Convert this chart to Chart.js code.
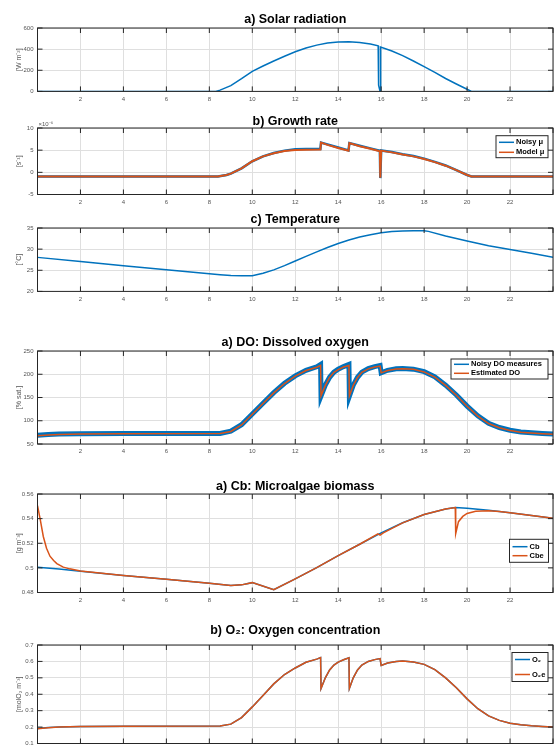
<!DOCTYPE html>
<html>
<head>
<meta charset="utf-8">
<script src="https://cdn.jsdelivr.net/npm/chart.js@4.4.1/dist/chart.umd.min.js"></script>
<style>
  html, body { margin: 0; padding: 0; background: #fff; overflow: hidden; }
  #page { position: relative; width: 557px; height: 747px; overflow: hidden; }
  #page canvas { position: absolute; left: 0; }
</style>
</head>
<body>
<div id="page"></div>
<script>
// ---- data, x = hour of the day ----
const solarT = [0, 8.3, 8.5, 9, 9.5, 10, 10.5, 11, 11.5, 12, 12.5, 13, 13.5, 14, 14.5, 15, 15.5, 15.86, 15.88, 15.92, 15.95, 15.97, 15.98, 16.5, 17, 17.5, 18, 18.5, 19, 19.5, 20, 20.2, 24];
const solarW = [0, 0, 12, 55, 120, 190, 240, 288, 333, 375, 410, 438, 457, 468, 470, 463, 448, 432, 60, 25, 0, 0, 420, 382, 338, 288, 234, 180, 122, 70, 20, 0, 0];

// growth rate, in 1e-6 s^-1
const muT = [0, 8.4, 8.8, 9, 9.5, 10, 10.5, 11, 11.5, 12, 12.5, 13.17, 13.2, 13.5, 14, 14.48, 14.52, 15, 15.5, 15.94, 15.96, 15.98, 16, 16.5, 17, 17.5, 18, 18.5, 19, 19.5, 20, 20.2, 24];
const muNoisy = [-0.95, -0.95, -0.6, -0.3, 0.9, 2.5, 3.6, 4.35, 4.9, 5.2, 5.25, 5.25, 6.7, 6.3, 5.6, 4.95, 6.6, 6.0, 5.4, 4.85, -1.3, -1.3, 4.95, 4.6, 4.1, 3.7, 3.1, 2.35, 1.55, 0.5, -0.6, -0.95, -0.95];
const muModel = [-0.95, -0.95, -0.6, -0.3, 0.9, 2.5, 3.6, 4.3, 4.8, 5.05, 5.1, 5.15, 6.7, 6.2, 5.5, 4.85, 6.6, 5.9, 5.3, 4.75, -1.2, -1.2, 4.9, 4.5, 4.0, 3.6, 3.0, 2.3, 1.5, 0.5, -0.6, -0.95, -0.95];

const tempT = [0, 2, 4, 6, 8, 8.5, 9, 9.5, 10, 10.5, 11, 11.5, 12, 12.5, 13, 13.5, 14, 14.5, 15, 15.5, 16, 16.5, 17, 17.5, 18, 18.2, 19, 20, 21, 22, 23, 24];
const tempC = [28.05, 27.05, 26.05, 25.15, 24.2, 23.95, 23.75, 23.7, 23.7, 24.3, 25.1, 26.1, 27.2, 28.3, 29.35, 30.4, 31.35, 32.15, 32.85, 33.4, 33.85, 34.15, 34.3, 34.35, 34.35, 34.2, 33.1, 31.9, 30.8, 29.9, 29.0, 28.05];

const doT = [0, 0.5, 1, 2, 4, 8.5, 9, 9.5, 10, 10.5, 11, 11.5, 12, 12.5, 13, 13.18, 13.2, 13.4, 13.6, 13.8, 14, 14.25, 14.5, 14.52, 14.7, 14.9, 15.1, 15.4, 15.7, 15.95, 16, 16.3, 16.7, 17, 17.5, 18, 18.5, 19, 19.5, 20, 20.5, 21, 21.5, 22, 22.5, 23, 23.5, 24];
const doNoisy = [69, 70.5, 71.5, 72.3, 72.5, 72.7, 77.5, 91.5, 114.5, 137.5, 160.5, 180.5, 196.5, 208.5, 216, 221, 153, 176.5, 193.5, 204.5, 211, 216.5, 221, 153, 176.5, 193.5, 204.5, 212, 216.5, 219, 203, 208.5, 212, 212.5, 211, 205.5, 194.5, 176.5, 155.5, 131.5, 110.5, 94.5, 85.5, 79.5, 76, 74, 72.5, 71.5];
const doEst = [67.5, 69.5, 70.5, 71.7, 72.3, 72.7, 77, 91, 114, 137, 160, 180, 196, 208, 215, 219, 153.5, 176, 193, 204, 210, 215.5, 219, 153.5, 176, 193, 204, 211.5, 215.5, 217.5, 203, 208, 211.5, 212, 210.5, 205, 194, 176, 155, 131, 110, 94, 85, 79, 75.5, 73.5, 72, 71];

const cbT = [0, 1, 2, 4, 6, 8, 9, 9.5, 10, 11, 12, 13, 14, 15, 16, 17, 18, 19, 19.45, 20, 21, 22, 23, 24];
const cb = [0.5005, 0.499, 0.4973, 0.4938, 0.4907, 0.4876, 0.4857, 0.4862, 0.488, 0.4822, 0.4911, 0.5002, 0.5099, 0.5192, 0.5284, 0.5366, 0.5434, 0.5478, 0.549, 0.5484, 0.5468, 0.5447, 0.5425, 0.5403];
const cbeT = [0, 0.12, 0.27, 0.42, 0.58, 0.75, 0.9, 1.2, 1.5, 2, 4, 6, 8, 9, 9.5, 10, 11, 12, 13, 14, 15, 15.85, 15.95, 16.1, 17, 18, 19, 19.45, 19.47, 19.6, 19.8, 20, 20.4, 21, 21.5, 22, 23, 24];
const cbe = [0.5505, 0.54, 0.5255, 0.516, 0.5095, 0.506, 0.5035, 0.5006, 0.4992, 0.4975, 0.4938, 0.4907, 0.4876, 0.4857, 0.4862, 0.488, 0.4822, 0.4911, 0.5002, 0.5099, 0.5192, 0.5276, 0.5266, 0.5285, 0.5366, 0.5434, 0.5478, 0.549, 0.5278, 0.5375, 0.5418, 0.5442, 0.5459, 0.5463, 0.5458, 0.5447, 0.5425, 0.5403];

const o2T = doT;
const o2 = [0.192, 0.197, 0.2, 0.203, 0.205, 0.206, 0.218, 0.258, 0.323, 0.393, 0.463, 0.52, 0.56, 0.595, 0.614, 0.623, 0.435, 0.5, 0.548, 0.578, 0.596, 0.61, 0.622, 0.435, 0.5, 0.548, 0.578, 0.6, 0.611, 0.617, 0.575, 0.59, 0.6, 0.602, 0.597, 0.582, 0.55, 0.5, 0.44, 0.372, 0.312, 0.268, 0.241, 0.224, 0.214, 0.208, 0.204, 0.201];
const o2e = [0.19, 0.196, 0.2, 0.203, 0.205, 0.206, 0.218, 0.258, 0.323, 0.393, 0.463, 0.52, 0.56, 0.595, 0.614, 0.623, 0.435, 0.5, 0.548, 0.578, 0.596, 0.61, 0.622, 0.435, 0.5, 0.548, 0.578, 0.6, 0.611, 0.617, 0.575, 0.59, 0.6, 0.602, 0.597, 0.582, 0.55, 0.5, 0.44, 0.372, 0.312, 0.268, 0.241, 0.224, 0.214, 0.208, 0.204, 0.2];

// ---- look ----
const BLUE = '#0072BD';
const ORANGE = '#D95319';
const GRID = '#dfdfdf';
const AXIS = '#262626';
const TICK = '#555';
const FONT = '"Liberation Sans", Arial, Helvetica, sans-serif';

const xy = (t, v) => t.map((x, i) => ({ x: x, y: v[i] }));

// matlab-ish box, inward ticks, title, legend
const matlabAxes = {
  id: 'matlabAxes',
  afterDraw(chart, args, o) {
    const { ctx, chartArea: a } = chart;
    const x = chart.scales.x, y = chart.scales.y;
    ctx.save();
    ctx.strokeStyle = AXIS;
    ctx.lineWidth = 1;
    ctx.strokeRect(a.left, a.top, a.right - a.left, a.bottom - a.top);
    ctx.beginPath();
    x.ticks.forEach(t => {
      const px = x.getPixelForValue(t.value);
      ctx.moveTo(px, a.bottom); ctx.lineTo(px, a.bottom - 5);
      ctx.moveTo(px, a.top); ctx.lineTo(px, a.top + 5);
    });
    y.ticks.forEach(t => {
      const py = y.getPixelForValue(t.value);
      ctx.moveTo(a.left, py); ctx.lineTo(a.left + 5, py);
      ctx.moveTo(a.right, py); ctx.lineTo(a.right - 5, py);
    });
    ctx.stroke();

    ctx.fillStyle = '#000';
    ctx.font = 'bold 12.5px ' + FONT;
    ctx.textAlign = 'center';
    ctx.textBaseline = 'middle';
    ctx.fillText(o.title, (a.left + a.right) / 2, a.top - o.titleGap);

    if (o.exponent) {
      ctx.fillStyle = TICK;
      ctx.font = '6px ' + FONT;
      ctx.textAlign = 'left';
      ctx.fillText(o.exponent, a.left + 1, a.top - 3.5);
    }

    const lg = o.legend;
    if (lg) {
      const bx = a.right - lg.right - lg.w;
      const by = a.top + lg.top;
      ctx.fillStyle = '#fff';
      ctx.fillRect(bx, by, lg.w, lg.h);
      ctx.strokeStyle = AXIS;
      ctx.lineWidth = 1;
      ctx.strokeRect(bx, by, lg.w, lg.h);
      ctx.font = 'bold 7.5px ' + FONT;
      ctx.textAlign = 'left';
      ctx.textBaseline = 'middle';
      lg.items.forEach((it, i) => {
        const ly = by + lg.rows[i];
        ctx.strokeStyle = it.color;
        ctx.lineWidth = 1.5;
        ctx.beginPath();
        ctx.moveTo(bx + 3, ly);
        ctx.lineTo(bx + 18, ly);
        ctx.stroke();
        ctx.fillStyle = '#000';
        ctx.fillText(it.label, bx + 20, ly);
      });
    }
    ctx.restore();
  }
};

function panel(p) {
  const padTop = 22, axisH = 14;
  const c = document.createElement('canvas');
  const h = padTop + (p.bottom - p.top) + axisH;
  c.width = 557;
  c.height = Math.ceil(h);
  c.style.top = (p.top - padTop) + 'px';
  document.getElementById('page').appendChild(c);

  new Chart(c.getContext('2d'), {
    type: 'line',
    data: {
      datasets: p.series.map(s => ({
        data: xy(s.t, s.v),
        borderColor: s.color,
        borderWidth: s.width,
        pointRadius: 0,
        tension: 0,
        fill: false,
        order: s.order || 0
      }))
    },
    options: {
      responsive: false,
      animation: false,
      events: [],
      layout: { padding: { top: padTop, right: 1.5, bottom: c.height - h, left: 0 } },
      scales: {
        x: {
          type: 'linear', min: 0, max: 24,
          afterFit: s => { s.height = axisH; },
          border: { display: false },
          grid: { color: GRID, lineWidth: 1, drawTicks: false },
          ticks: {
            stepSize: 2, autoSkip: false, maxRotation: 0, padding: 4,
            color: TICK, font: { size: 6, family: FONT },
            callback: v => (v > 0 && v < 24) ? v : ''
          }
        },
        y: {
          min: p.yMin, max: p.yMax,
          afterFit: s => { s.width = 37.5; },
          border: { display: false },
          grid: { color: GRID, lineWidth: 1, drawTicks: false },
          ticks: {
            stepSize: p.yStep, padding: 4, color: TICK, font: { size: 6, family: FONT },
            callback: v => String(+v.toFixed(4))
          },
          title: {
            display: true, text: p.yTitle, color: TICK,
            font: { size: 7, family: FONT }, padding: { top: 14.8, bottom: 0 }
          }
        }
      },
      plugins: {
        legend: { display: false },
        tooltip: { enabled: false },
        matlabAxes: { title: p.title, titleGap: p.titleGap, exponent: p.exponent, legend: p.legend }
      }
    },
    plugins: [matlabAxes]
  });
}

panel({
  top: 28.3, bottom: 91.7, titleGap: 8.3,
  title: 'a) Solar radiation', yTitle: '[W m⁻²]', yMin: 0, yMax: 600, yStep: 200,
  series: [{ t: solarT, v: solarW, color: BLUE, width: 1.5 }]
});

panel({
  top: 128, bottom: 194.5, titleGap: 6.5,
  title: 'b) Growth rate', yTitle: '[s⁻¹]', yMin: -5, yMax: 10, yStep: 5, exponent: '×10⁻⁶',
  series: [
    { t: muT, v: muNoisy, color: BLUE, width: 2.5, order: 2 },
    { t: muT, v: muModel, color: ORANGE, width: 2, order: 1 }
  ],
  legend: { right: 5, top: 7.7, w: 52, h: 22, rows: [6.6, 16.6],
    items: [{ label: 'Noisy μ', color: BLUE }, { label: 'Model μ', color: ORANGE }] }
});

panel({
  top: 228.3, bottom: 291.7, titleGap: 8.3,
  title: 'c) Temperature', yTitle: '[°C]', yMin: 20, yMax: 35, yStep: 5,
  series: [{ t: tempT, v: tempC, color: BLUE, width: 1.5 }]
});

panel({
  top: 351, bottom: 444, titleGap: 8.7,
  title: 'a) DO: Dissolved oxygen', yTitle: '[% sat.]', yMin: 50, yMax: 250, yStep: 50,
  series: [
    { t: doT, v: doNoisy, color: BLUE, width: 5, order: 2 },
    { t: doT, v: doEst, color: ORANGE, width: 1.5, order: 1 }
  ],
  legend: { right: 5, top: 8, w: 97, h: 20, rows: [5.3, 14.3],
    items: [{ label: 'Noisy DO measures', color: BLUE }, { label: 'Estimated DO', color: ORANGE }] }
});

panel({
  top: 494, bottom: 592.5, titleGap: 7.3,
  title: 'a) Cb: Microalgae biomass', yTitle: '[g m⁻³]', yMin: 0.48, yMax: 0.56, yStep: 0.02,
  series: [
    { t: cbT, v: cb, color: BLUE, width: 1.5, order: 2 },
    { t: cbeT, v: cbe, color: ORANGE, width: 1.5, order: 1 }
  ],
  legend: { right: 4.5, top: 45.3, w: 39, h: 23, rows: [7.4, 16.4],
    items: [{ label: 'Cb', color: BLUE }, { label: 'Cbe', color: ORANGE }] }
});

panel({
  top: 644.5, bottom: 743, titleGap: 14.5,
  title: 'b) O₂: Oxygen concentration', yTitle: '[molO₂ m⁻³]', yMin: 0.1, yMax: 0.7, yStep: 0.1,
  series: [
    { t: o2T, v: o2, color: BLUE, width: 1.5, order: 2 },
    { t: o2T, v: o2e, color: ORANGE, width: 1.5, order: 1 }
  ],
  legend: { right: 5, top: 7.5, w: 36, h: 29, rows: [7, 22],
    items: [{ label: 'O₂', color: BLUE }, { label: 'O₂e', color: ORANGE }] }
});
</script>
</body>
</html>
